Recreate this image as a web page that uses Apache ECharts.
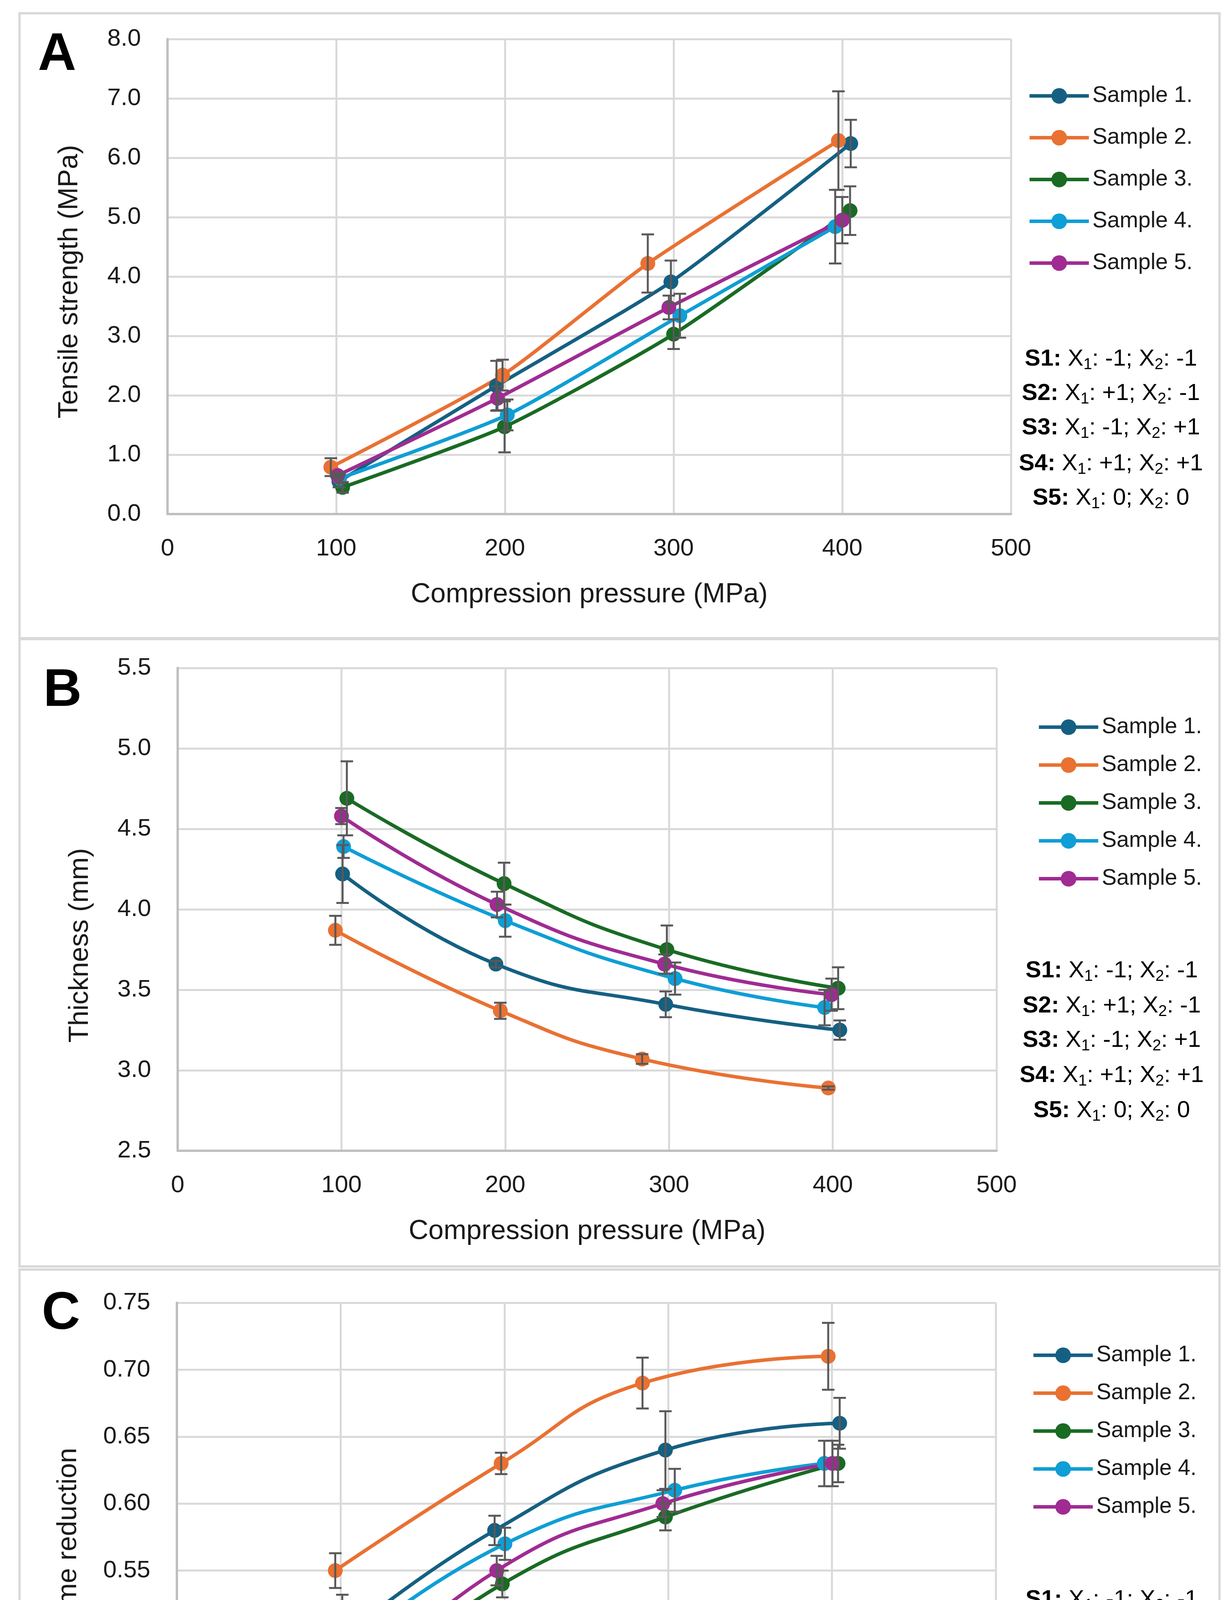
<!DOCTYPE html>
<html>
<head>
<meta charset="utf-8">
<title>Compression pressure effects</title>
<script src="https://cdn.jsdelivr.net/npm/echarts@6/dist/echarts.min.js"></script>
<style>
    html, body { margin: 0; padding: 0; background: #ffffff; }
    #chart { width: 3155px; height: 4888px; }
</style>
</head>
<body>
<div id="chart"></div>
<script>
// names shown in the legends
const sampleNames = ['Sample 1.', 'Sample 2.', 'Sample 3.', 'Sample 4.', 'Sample 5.'];
// x axis ticks, MPa
const pressureTicks = [0, 100, 200, 300, 400, 500];
// y axis ranges [min, max, step]
const tensileTicks = [0, 8, 1];
const thicknessTicks = [2.5, 5.5, 0.5];
const volumeTicks = [0.40, 0.75, 0.05];

// points: [compression pressure, mean, sd]
// A - tensile strength (MPa)
const tensileS1 = [[101.6, 0.55, 0.10], [195.0, 2.16, 0.42], [298.4, 3.91, 0.36], [405.0, 6.24, 0.40]];
const tensileS2 = [[96.8, 0.79, 0.15], [198.6, 2.34, 0.26], [284.7, 4.22, 0.49], [397.7, 6.29, 0.83]];
const tensileS3 = [[103.8, 0.45, 0.09], [199.8, 1.47, 0.43], [300.0, 3.03, 0.25], [404.6, 5.11, 0.41]];
const tensileS4 = [[102.0, 0.60, 0.08], [201.4, 1.67, 0.26], [303.7, 3.34, 0.37], [395.8, 4.84, 0.62]];
const tensileS5 = [[100.8, 0.65, 0.05], [195.6, 1.95, 0.20], [297.2, 3.48, 0.20], [400.0, 4.95, 0.39]];

// B - thickness (mm)
const thicknessS1 = [[100.7, 4.22, 0.18], [194.3, 3.66, 0.02], [298.0, 3.41, 0.08], [404.3, 3.25, 0.06]];
const thicknessS2 = [[96.3, 3.87, 0.09], [197.0, 3.37, 0.05], [283.6, 3.07, 0.03], [397.3, 2.89, 0.01]];
const thicknessS3 = [[103.3, 4.69, 0.23], [199.3, 4.16, 0.13], [298.7, 3.75, 0.15], [403.3, 3.51, 0.13]];
const thicknessS4 = [[101.3, 4.39, 0.07], [200.0, 3.93, 0.10], [303.7, 3.57, 0.10], [395.0, 3.39, 0.11]];
const thicknessS5 = [[100.0, 4.58, 0.05], [195.0, 4.03, 0.08], [297.3, 3.66, 0.06], [399.3, 3.47, 0.10]];

// C - volume reduction
const volumeS1 = [[101.0, 0.50, 0.032], [194.0, 0.58, 0.011], [298.3, 0.64, 0.029], [404.7, 0.66, 0.019]];
const volumeS2 = [[96.7, 0.55, 0.013], [198.0, 0.63, 0.008], [284.3, 0.69, 0.019], [397.7, 0.71, 0.025]];
const volumeS3 = [[102.7, 0.45, 0.017], [198.7, 0.54, 0.010], [298.3, 0.59, 0.010], [403.7, 0.63, 0.014]];
const volumeS4 = [[101.7, 0.49, 0.027], [200.3, 0.57, 0.012], [304.0, 0.61, 0.016], [395.3, 0.63, 0.017]];
const volumeS5 = [[100.3, 0.45, 0.023], [195.3, 0.55, 0.011], [296.7, 0.60, 0.010], [400.3, 0.63, 0.017]];

// design codes shown beside each plot
const codeLabels = ['S1:', 'S2:', 'S3:', 'S4:', 'S5:'];
const codeX1 = ['-1', '+1', '-1', '+1', '0'];
const codeX2 = ['-1', '-1', '+1', '+1', '0'];

const colors = ['#156082', '#E97132', '#196B24', '#0F9ED5', '#A02B93'];
const FONT = '"Liberation Sans", Arial, sans-serif';

const panels = [
    {
        letter: 'A', letterPos: [97, 141],
        frame: [50, 34, 3073, 1600],
        grid: {left: 429, top: 100, width: 2160, height: 1216},
        yName: 'Tensile strength (MPa)', yTicks: tensileTicks, decimals: 1,
        nameGap: 215, nameShift: 13, smooth: 0.2,
        legend: {left: 2632, top: 217, gap: 50},
        notesX: 2845, notesY: [919, 1007, 1095, 1187, 1275],
        data: [tensileS1, tensileS2, tensileS3, tensileS4, tensileS5]
    },
    {
        letter: 'B', letterPos: [111, 1769],
        frame: [50, 1636, 3073, 1606],
        grid: {left: 455, top: 1710, width: 2097, height: 1236},
        yName: 'Thickness (mm)', yTicks: thicknessTicks, decimals: 1,
        nameGap: 214, nameShift: 92, smooth: 0.5,
        legend: {left: 2656, top: 1833, gap: 40},
        notesX: 2847, notesY: [2485, 2575, 2663, 2753, 2843],
        data: [thicknessS1, thicknessS2, thicknessS3, thicknessS4, thicknessS5]
    },
    {
        letter: 'C', letterPos: [107, 3364],
        frame: [50, 3250, 3073, 1600],
        grid: {left: 453, top: 3335, width: 2097, height: 1200},
        yName: 'Volume reduction', yTicks: volumeTicks, decimals: 2,
        nameGap: 242, nameShift: 42, smooth: 0.5,
        legend: {left: 2642, top: 3441, gap: 40},
        notesX: 2847, notesY: [4095, 4183, 4271, 4363, 4451],
        data: [volumeS1, volumeS2, volumeS3, volumeS4, volumeS5]
    }
];

function errorBars (params, api) {
    let x = api.value(0), y = api.value(1), e = api.value(2);
    let top = api.coord([x, y + e]);
    let bot = api.coord([x, y - e]);
    let hw = 16;
    let style = {stroke: '#595959', lineWidth: 5};
    return {
        type: 'group',
        children: [
            {type: 'line', shape: {x1: top[0], y1: top[1], x2: bot[0], y2: bot[1]}, style: style},
            {type: 'line', shape: {x1: top[0] - hw, y1: top[1], x2: top[0] + hw, y2: top[1]}, style: style},
            {type: 'line', shape: {x1: bot[0] - hw, y1: bot[1], x2: bot[0] + hw, y2: bot[1]}, style: style}
        ]
    };
}

let grids = [], xAxes = [], yAxes = [], legends = [], series = [], graphics = [];

panels.forEach(function (p, i) {
    grids.push(Object.assign({outerBoundsMode: 'none', containLabel: false}, p.grid));

    xAxes.push({
        type: 'value',
        gridIndex: i,
        min: pressureTicks[0],
        max: pressureTicks[pressureTicks.length - 1],
        interval: pressureTicks[1] - pressureTicks[0],
        name: 'Compression pressure (MPa)',
        nameLocation: 'middle',
        nameGap: 172,
        nameTextStyle: {fontFamily: FONT, fontSize: 70, color: '#1a1a1a'},
        axisLine: {show: true, lineStyle: {color: '#BFBFBF', width: 6}},
        axisTick: {show: false},
        axisLabel: {margin: 58, fontFamily: FONT, fontSize: 62, color: '#1a1a1a'},
        splitLine: {show: true, lineStyle: {color: '#D9D9D9', width: 5}}
    });

    yAxes.push({
        type: 'value',
        gridIndex: i,
        min: p.yTicks[0],
        max: p.yTicks[1],
        interval: p.yTicks[2],
        name: p.yName,
        nameLocation: 'middle',
        nameGap: p.nameGap,
        nameTextStyle: {
            fontFamily: FONT, fontSize: 70, color: '#1a1a1a',
            padding: [0, p.nameShift * 2, 0, 0]
        },
        axisLine: {show: true, lineStyle: {color: '#BFBFBF', width: 6}},
        axisTick: {show: false},
        axisLabel: {
            margin: 68, fontFamily: FONT, fontSize: 62, color: '#1a1a1a',
            formatter: function (v) { return v.toFixed(p.decimals); }
        },
        splitLine: {show: true, lineStyle: {color: '#D9D9D9', width: 5}}
    });

    legends.push({
        orient: 'vertical',
        left: p.legend.left,
        top: p.legend.top,
        padding: 0,
        itemWidth: 152,
        itemHeight: 50,
        itemGap: p.legend.gap,
        selectedMode: false,
        data: sampleNames,
        lineStyle: {width: 9},
        textStyle: {fontFamily: FONT, fontSize: 57, lineHeight: 50, color: '#1a1a1a', padding: [0, 0, 0, 4]}
    });

    p.data.forEach(function (pts, k) {
        series.push({
            name: sampleNames[k],
            type: 'line',
            xAxisIndex: i,
            yAxisIndex: i,
            smooth: p.smooth,
            symbol: 'circle',
            symbolSize: 38,
            lineStyle: {color: colors[k], width: 9},
            itemStyle: {color: colors[k]},
            z: 2,
            data: pts.map(function (d) { return [d[0], d[1]]; })
        });
    });
    p.data.forEach(function (pts, k) {
        series.push({
            type: 'custom',
            xAxisIndex: i,
            yAxisIndex: i,
            z: 3,
            renderItem: errorBars,
            encode: {x: 0, y: 1},
            data: pts
        });
    });

    graphics.push({
        type: 'rect',
        shape: {x: p.frame[0], y: p.frame[1], width: p.frame[2], height: p.frame[3]},
        style: {fill: 'none', stroke: '#D9D9D9', lineWidth: 6},
        z: -10
    });
    graphics.push({
        type: 'text',
        x: p.letterPos[0],
        y: p.letterPos[1],
        style: {
            text: p.letter, fill: '#000',
            fontFamily: FONT, fontSize: 136, fontWeight: 'bold',
            align: 'left', verticalAlign: 'middle'
        }
    });
    codeLabels.forEach(function (lab, j) {
        graphics.push({
            type: 'text',
            x: p.notesX,
            y: p.notesY[j],
            style: {
                text: '{b|' + lab + '} X{s|1}: ' + codeX1[j] + '; X{s|2}: ' + codeX2[j],
                fill: '#000',
                fontFamily: FONT, fontSize: 60, lineHeight: 70,
                align: 'center', verticalAlign: 'middle',
                rich: {
                    b: {fontFamily: FONT, fontSize: 60, fontWeight: 'bold', lineHeight: 70, fill: '#000'},
                    s: {fontFamily: FONT, fontSize: 40, lineHeight: 40, verticalAlign: 'bottom', fill: '#000'}
                }
            }
        });
    });
});

const chart = echarts.init(document.getElementById('chart'));
chart.setOption({
    animation: false,
    backgroundColor: '#ffffff',
    grid: grids,
    xAxis: xAxes,
    yAxis: yAxes,
    legend: legends,
    series: series,
    graphic: graphics
});
</script>
</body>
</html>
